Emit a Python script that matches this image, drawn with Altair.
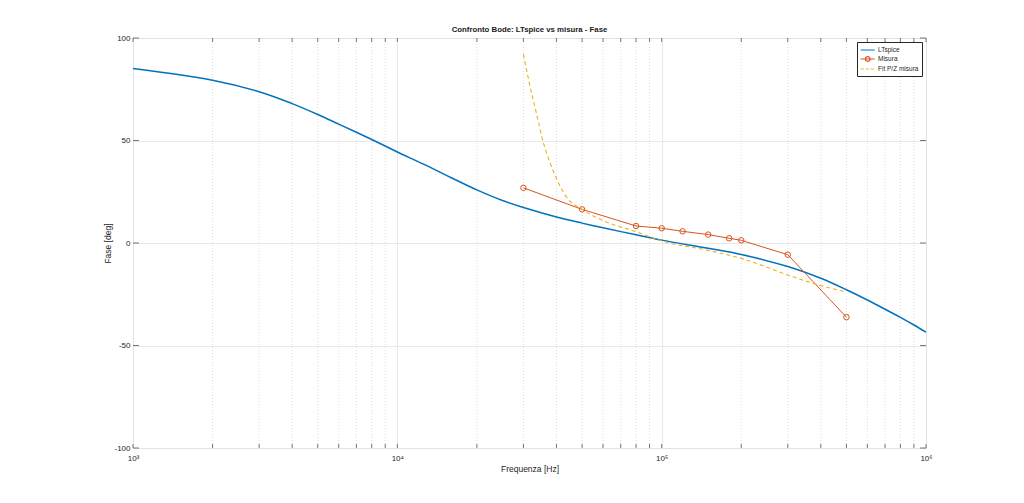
import altair as alt
import pandas as pd

# ---------------- data ----------------
series_names = ["LTspice", "Misura", "Fit P/Z misura"]
series_colors = ["#0072BD", "#D95319", "#EDB120"]

lt_freq = [1000, 2000, 3000, 4000, 5000, 6000, 7000, 8000, 9000, 10000, 12500,
           15000, 20000, 25000, 30000, 40000, 50000, 60000, 80000, 100000, 150000,
           200000, 300000, 400000, 500000, 600000, 700000, 800000, 900000, 1000000]
lt_phase = [85.1, 79.4, 73.8, 68.0, 62.7, 58.0, 54.0, 50.5, 47.3, 44.4, 38.6,
            33.6, 25.9, 20.7, 17.3, 12.7, 9.7, 7.4, 4.0, 1.4, -2.6,
            -5.6, -11.5, -17.2, -22.8, -27.8, -32.3, -36.3, -40.0, -43.5]

mis_freq = [30000, 50000, 80000, 100000, 120000, 150000, 180000, 200000, 300000, 500000]
mis_phase = [26.9, 16.4, 8.3, 7.2, 5.7, 4.1, 2.3, 1.3, -5.7, -36.2]

fit_freq = [30000, 31600, 33600, 35500, 38800, 43600, 50000, 61700, 80000,
            100000, 150000, 200000, 300000, 400000, 500000]
fit_phase = [92.1, 77.8, 63.2, 50.1, 35.5, 22.5, 16.4, 10.3, 5.5,
             1.0, -3.6, -7.5, -15.6, -20.8, -23.9]

x_major = [1000, 10000, 100000, 1000000]
x_minor = [m * d for d in (1000, 10000, 100000) for m in range(2, 10)]
y_major = [-100, -50, 0, 50, 100]

# ---------------- tables ----------------
lt_df = pd.DataFrame({"f": lt_freq, "phase": lt_phase})
mis_df = pd.DataFrame({"f": mis_freq, "phase": mis_phase})
fit_df = pd.DataFrame({"f": fit_freq, "phase": fit_phase})
legend_df = pd.DataFrame({"f": [1000] * 3, "phase": [0] * 3, "series": series_names})
minor_df = pd.DataFrame({"f": x_minor})
xt_df = pd.DataFrame({"f": x_major + x_minor})
yt_df = pd.DataFrame({"phase": y_major})

W, H = 793, 410
FONT = "Liberation Sans"
AX = "#262626"

x_scale = alt.Scale(type="log", domain=[1000, 1000000], nice=False)
y_scale = alt.Scale(domain=[-100, 100], nice=False)
color_scale = alt.Scale(domain=series_names, range=series_colors)
dash_scale = alt.Scale(domain=series_names, range=[[1, 0], [1, 0], [3, 2]])
shape_scale = alt.Scale(
    domain=series_names,
    range=[
        "M-1,0L2.3,0",
        "M-1,0L2.3,0M1.2,0A0.55,0.55,0,1,1,0.1,0A0.55,0.55,0,1,1,1.2,0",
        "M-1,0L2.3,0",
    ],
)

label_expr = ("datum.value == 1000 ? '10³' : datum.value == 10000 ? '10⁴' : "
              "datum.value == 100000 ? '10⁵' : '10⁶'")

x_axis = alt.Axis(values=x_major, labelExpr=label_expr, title="Frequenza [Hz]",
                  grid=True, gridColor="#e3e3e3", gridWidth=0.8, ticks=False, domain=False,
                  labelFont=FONT, labelFontSize=8, labelColor=AX, labelPadding=6,
                  titleFont=FONT, titleFontSize=8.5, titleFontWeight="normal",
                  titleColor=AX, titlePadding=2, labelFlush=False)
y_axis = alt.Axis(values=y_major, labelExpr="'' + datum.value", title="Fase [deg]",
                  grid=True, gridColor="#e3e3e3",
                  gridWidth=0.8, ticks=False, domain=False,
                  labelFont=FONT, labelFontSize=8, labelColor=AX, labelPadding=3,
                  titleFont=FONT, titleFontSize=8.5, titleFontWeight="normal",
                  titleColor=AX, titlePadding=1)

X = alt.X("f:Q", scale=x_scale, axis=x_axis)
Y = alt.Y("phase:Q", scale=y_scale, axis=y_axis)

minor_grid = alt.Chart(minor_df).mark_rule(
    color="#d4d4d4", strokeDash=[1, 2], strokeWidth=0.8
).encode(x=X, y=alt.value(0), y2=alt.value(H))

lt_line = alt.Chart(lt_df).mark_line(
    color=series_colors[0], strokeWidth=1.5, interpolate="catmull-rom"
).encode(x=X, y=Y, order="f:Q")

mis_line = alt.Chart(mis_df).mark_line(
    color=series_colors[1], strokeWidth=1.0
).encode(x=X, y=Y, order="f:Q")

fit_line = alt.Chart(fit_df).mark_line(
    color=series_colors[2], strokeWidth=1.1, strokeDash=[4, 3], interpolate="monotone"
).encode(x=X, y=Y, order="f:Q")

mis_pts = alt.Chart(mis_df).mark_point(
    shape="circle", filled=False, size=30, strokeWidth=1.0, opacity=1,
    color=series_colors[1]
).encode(x=X, y=Y)

leg = dict(title=None, orient="top-right", offset=4, fillColor="white",
           strokeColor="#262626", padding=3, labelFont=FONT, labelFontSize=6.5,
           labelColor=AX, symbolSize=72, symbolStrokeWidth=1.2, rowPadding=0,
           labelOffset=8, symbolOpacity=1)

legend_layer = alt.Chart(legend_df).mark_point(
    filled=False, opacity=0, strokeWidth=1.2
).encode(
    x=X, y=Y,
    color=alt.Color("series:N", scale=color_scale, legend=alt.Legend(**leg)),
    shape=alt.Shape("series:N", scale=shape_scale, legend=alt.Legend(**leg)),
    strokeDash=alt.StrokeDash("series:N", scale=dash_scale, legend=alt.Legend(**leg)),
)

xt_bottom = alt.Chart(xt_df).mark_rule(color="#555555", strokeWidth=0.8).encode(
    x=X, y=alt.value(H), y2=alt.value(H - 4))
xt_top = alt.Chart(xt_df).mark_rule(color="#555555", strokeWidth=0.8).encode(
    x=X, y=alt.value(0), y2=alt.value(4))
yt_left = alt.Chart(yt_df).mark_rule(color="#555555", strokeWidth=0.8).encode(
    y=Y, x=alt.value(0), x2=alt.value(6))
yt_right = alt.Chart(yt_df).mark_rule(color="#555555", strokeWidth=0.8).encode(
    y=Y, x=alt.value(W - 6), x2=alt.value(W))

chart = alt.layer(
    minor_grid, lt_line, mis_line, fit_line, mis_pts, legend_layer,
    xt_bottom, xt_top, yt_left, yt_right,
).properties(
    width=W, height=H,
    title=alt.TitleParams("Confronto Bode: LTspice vs misura - Fase", font=FONT,
                          fontSize=7.8, fontWeight="bold", color="#1a1a1a",
                          anchor="middle", offset=0),
    autosize=alt.AutoSizeParams(type="none"),
    padding={"left": 125, "top": 30, "right": 90, "bottom": 40},
).configure_view(
    stroke="#7a7a7a", strokeWidth=1
).configure(background="white")

chart.save("out.html", embed_options={"renderer": "svg", "actions": False})
